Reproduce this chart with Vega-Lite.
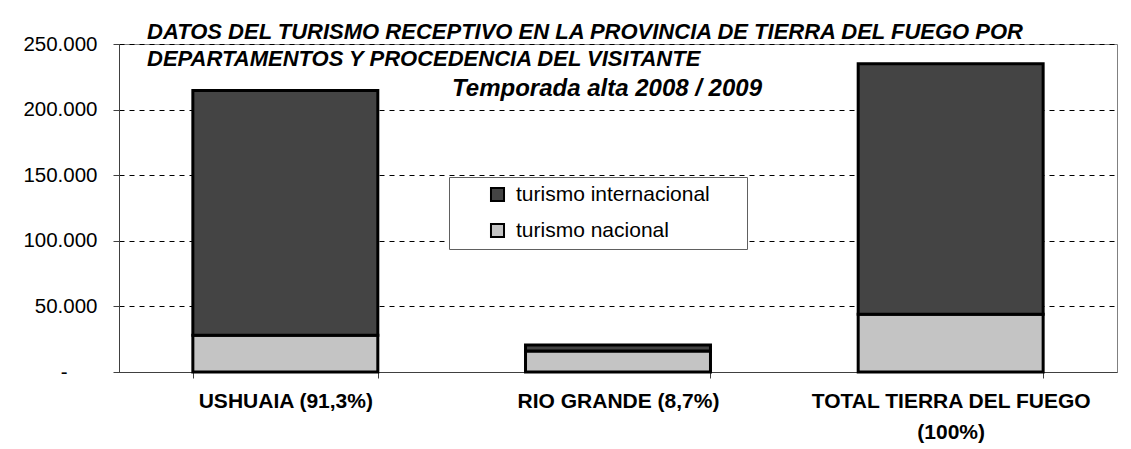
{
  "$schema": "https://vega.github.io/schema/vega-lite/v6.json",
  "autosize": {"type": "none"},
  "padding": {"left": 119, "top": 44, "right": 14, "bottom": 77},
  "width": 998,
  "height": 328,
  "background": "white",
  "config": {
    "font": "Liberation Sans",
    "view": {"stroke": "#808080", "strokeWidth": 1}
  },
  "title": {
    "text": ["DATOS DEL TURISMO RECEPTIVO EN LA PROVINCIA DE TIERRA DEL FUEGO POR", "DEPARTAMENTOS Y PROCEDENCIA DEL VISITANTE"],
    "anchor": "start",
    "frame": "group",
    "dx": 28,
    "offset": -37,
    "font": "Liberation Sans",
    "fontSize": 22,
    "fontWeight": "bold",
    "fontStyle": "italic",
    "color": "black",
    "lineHeight": 27
  },
  "data": {
    "values": [
      {"departamento": "USHUAIA (91,3%)", "tipo": "turismo nacional", "visitantes": 28000},
      {"departamento": "USHUAIA (91,3%)", "tipo": "turismo internacional", "visitantes": 186500},
      {"departamento": "RIO GRANDE (8,7%)", "tipo": "turismo nacional", "visitantes": 16000},
      {"departamento": "RIO GRANDE (8,7%)", "tipo": "turismo internacional", "visitantes": 4500},
      {"departamento": "TOTAL TIERRA DEL FUEGO (100%)", "tipo": "turismo nacional", "visitantes": 44000},
      {"departamento": "TOTAL TIERRA DEL FUEGO (100%)", "tipo": "turismo internacional", "visitantes": 191000}
    ]
  },
  "layer": [
    {
      "mark": {"type": "bar", "stroke": "black", "strokeWidth": 3},
      "encoding": {
        "x": {
          "field": "departamento",
          "type": "nominal",
          "sort": null,
          "scale": {"paddingInner": 0.444, "paddingOuter": 0.222},
          "axis": {
            "title": null,
            "labelAngle": 0,
            "tickBand": "extent",
            "tickSize": 6,
            "tickColor": "#404040",
            "domainColor": "#404040",
            "labelFontSize": 21,
            "labelFontWeight": "bold",
            "labelColor": "black",
            "labelPadding": 12,
            "labelLineHeight": 31,
            "labelLimit": 400,
            "labelExpr": "datum.value == 'TOTAL TIERRA DEL FUEGO (100%)' ? ['TOTAL TIERRA DEL FUEGO', '(100%)'] : datum.label"
          }
        },
        "y": {
          "field": "visitantes",
          "type": "quantitative",
          "stack": "zero",
          "scale": {"domain": [0, 250000], "nice": false},
          "axis": {
            "title": null,
            "values": [0, 50000, 100000, 150000, 200000, 250000],
            "grid": true,
            "gridColor": "black",
            "gridDash": [5, 5],
            "gridWidth": 1,
            "tickColor": "#404040",
            "tickSize": 6,
            "domainColor": "#404040",
            "labelFontSize": 20.5,
            "labelColor": "black",
            "labelPadding": 16,
            "labelExpr": "datum.value == 0 ? '-\u2800\u2800' : replace(format(datum.value, ','), /,/g, '.')"
          }
        },
        "color": {
          "field": "tipo",
          "type": "nominal",
          "scale": {"domain": ["turismo internacional", "turismo nacional"], "range": ["#444444", "#c4c4c4"]},
          "legend": {
            "title": null,
            "orient": "none",
            "legendX": 330,
            "legendY": 133,
            "strokeColor": "#606060",
            "fillColor": "white",
            "padding": 7,
            "rowPadding": 13,
            "symbolType": "square",
            "symbolSize": 170,
            "symbolStrokeColor": "black",
            "symbolStrokeWidth": 2,
            "symbolOffset": 31,
            "labelOffset": 8,
            "labelFontSize": 21,
            "labelColor": "black",
            "labelLimit": 400,
            "labelExpr": "datum.label + '\u2800\u2800'"
          }
        },
        "order": {"field": "tipo", "sort": "descending"}
      }
    },
    {
      "data": {"values": [{"linea": "Temporada alta 2008 / 2009"}]},
      "mark": {"type": "text", "fontSize": 24, "fontWeight": "bold", "fontStyle": "italic", "baseline": "alphabetic", "align": "center", "dx": -11, "color": "black"},
      "encoding": {
        "text": {"field": "linea"},
        "x": {"datum": "RIO GRANDE (8,7%)"},
        "y": {"datum": 210000}
      }
    }
  ]
}
